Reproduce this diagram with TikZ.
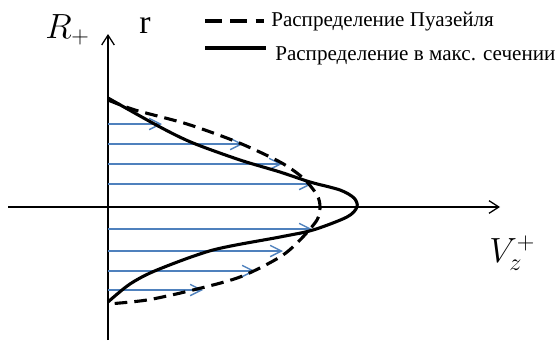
\documentclass[tikz,border=0pt]{standalone}
\usepackage{fontspec}
\setmainfont{Liberation Serif}
\usepackage{xcolor}
\definecolor{flowblue}{RGB}{79,129,189}
\usetikzlibrary{arrows.meta,positioning}

\begin{document}
\begin{tikzpicture}[x=0.025cm,y=-0.025cm,
    axis/.style={line width=0.9pt,-{Straight Barb[length=7pt,width=9pt]}},
    profile/.style={line width=2.2pt},
    poiseuille/.style={profile,dash pattern=on 9pt off 5pt},
    vel/.style={flowblue,line width=1pt,-{Straight Barb[length=8pt,width=8pt]}},
    biglabel/.style={inner sep=0pt,anchor=base west,font=\fontsize{24}{26}\selectfont},
    legtext/.style={inner sep=0pt,anchor=base west,font=\fontsize{15}{17}\selectfont}]
    \useasboundingbox (0,0) rectangle (560,342);

    % Axes
    \coordinate (rtop) at (108,34);
    \coordinate (rbot) at (108,340);
    \coordinate (vleft) at (8,207);
    \coordinate (vright) at (500,207);
    \draw[axis] (rbot) -- (rtop);
    \draw[axis] (vleft) -- (vright);

    % Velocity arrows
    \foreach \y/\x in {124/162,144/243,164/282,184/312,229/312,251/283,271/255,290/203}
        \draw[vel] (108,\y) -- (\x,\y);

    % Poiseuille profile
    \draw[poiseuille] plot[smooth] coordinates {(108,100) (135,110) (187,124) (237,142) (280,162)
        (303,178) (317,195) (320,207) (317,220) (300,240) (280,257) (240,277) (193,290) (147,300) (108,304)};

    % Profile in max. section
    \draw[profile] plot[smooth] coordinates {(108,98) (160,127) (193,143) (240,160) (280,172)
        (310,182) (340,190) (354,198) (357,207) (347,217) (313,230) (280,237) (213,250)
        (157,270) (130,284) (108,302)};

    % Axis labels
    \node[biglabel] (Rlab) at (45,38) {$R_+$};
    \node[biglabel] (rlab) at (139,33) {r};
    \node[biglabel] (Vlab) at (489,262) {$V_z^+$};

    % Legend
    \coordinate (dashA) at (205,21);
    \coordinate (dashB) at (264,21);
    \coordinate (solidA) at (205,48);
    \coordinate (solidB) at (266,48);
    \draw[profile,dash pattern=on 12pt off 6pt] (dashA) -- (dashB);
    \draw[profile] (solidA) -- (solidB);
    \node[legtext] (leg1) at (271,26) {Распределение Пуазейля};
    \node[legtext] (leg2) at (275,60) {Распределение в макс. сечении};
\end{tikzpicture}
\end{document}
